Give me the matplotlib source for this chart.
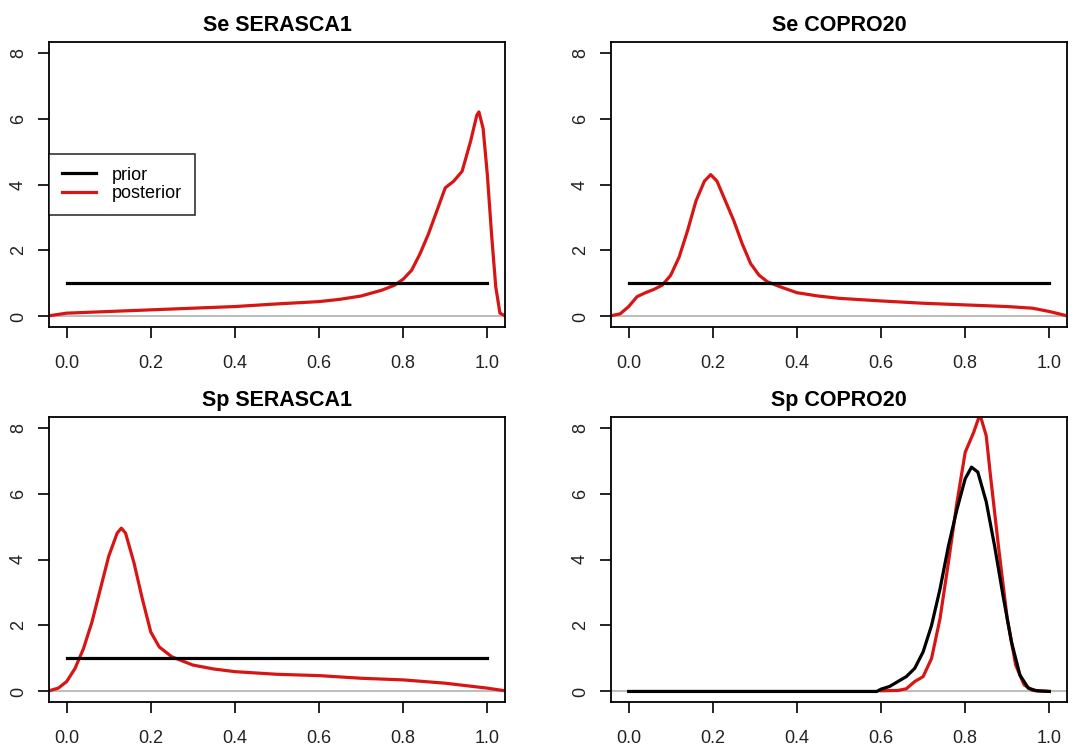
import numpy as np
import matplotlib.pyplot as plt

plt.rcParams['font.family'] = ['Liberation Sans', 'DejaVu Sans']

titles = ["Se SERASCA1", "Se COPRO20", "Sp SERASCA1", "Sp COPRO20"]
x_ticks = [0.0, 0.2, 0.4, 0.6, 0.8, 1.0]
y_ticks = [0, 2, 4, 6, 8]

# uniform priors (Beta(1,1)) for three panels
prior_flat_x = [0.0, 1.0]
prior_flat_y = [1.0, 1.0]

# Se SERASCA1 posterior
se_ser_x = [-0.042, 0.0, 0.1, 0.2, 0.3, 0.4, 0.5, 0.6, 0.65, 0.7, 0.75, 0.78, 0.8,
            0.82, 0.84, 0.86, 0.88, 0.9, 0.92, 0.94, 0.96, 0.975, 0.98, 0.99,
            1.0, 1.01, 1.02, 1.03, 1.042]
se_ser_y = [0.02, 0.1, 0.15, 0.2, 0.25, 0.3, 0.38, 0.45, 0.52, 0.62, 0.8, 0.95, 1.13,
            1.4, 1.9, 2.5, 3.2, 3.9, 4.1, 4.4, 5.3, 6.1, 6.2, 5.7,
            4.3, 2.5, 0.9, 0.1, 0.02]

# Se COPRO20 posterior
se_cop_x = [-0.042, -0.02, 0.0, 0.02, 0.04, 0.06, 0.08, 0.1, 0.12, 0.14, 0.16, 0.18,
            0.195, 0.21, 0.23, 0.25, 0.27, 0.29, 0.31, 0.33, 0.36, 0.4, 0.45, 0.5,
            0.6, 0.7, 0.8, 0.9, 0.96, 1.0, 1.042]
se_cop_y = [0.02, 0.08, 0.3, 0.6, 0.72, 0.82, 0.95, 1.25, 1.8, 2.6, 3.5, 4.1,
            4.3, 4.1, 3.5, 2.9, 2.2, 1.6, 1.25, 1.05, 0.9, 0.72, 0.62, 0.55,
            0.47, 0.4, 0.35, 0.3, 0.25, 0.15, 0.02]

# Sp SERASCA1 posterior
sp_ser_x = [-0.042, -0.02, 0.0, 0.02, 0.04, 0.06, 0.08, 0.1, 0.12, 0.13, 0.14, 0.16,
            0.18, 0.2, 0.22, 0.25, 0.3, 0.35, 0.4, 0.5, 0.6, 0.7, 0.8, 0.9, 1.0, 1.042]
sp_ser_y = [0.02, 0.1, 0.3, 0.7, 1.3, 2.1, 3.1, 4.1, 4.8, 4.95, 4.8, 3.9,
            2.8, 1.8, 1.35, 1.05, 0.8, 0.68, 0.6, 0.52, 0.48, 0.4, 0.35, 0.25, 0.1, 0.02]

# Sp COPRO20 prior (informative beta) and posterior
sp_cop_prior_x = [0.0, 0.59, 0.6, 0.62, 0.64, 0.66, 0.68, 0.7, 0.72, 0.74, 0.76, 0.78,
                  0.8, 0.815, 0.83, 0.85, 0.87, 0.89, 0.91, 0.93, 0.95, 0.97, 1.0]
sp_cop_prior_y = [0.0, 0.0, 0.07, 0.15, 0.3, 0.45, 0.7, 1.2, 2.0, 3.1, 4.4, 5.5,
                  6.45, 6.8, 6.65, 5.75, 4.4, 2.9, 1.5, 0.5, 0.1, 0.02, 0.0]
sp_cop_post_x = [0.6, 0.64, 0.66, 0.68, 0.7, 0.72, 0.74, 0.76, 0.78, 0.8, 0.82, 0.835,
                 0.85, 0.86, 0.88, 0.9, 0.92, 0.94, 0.96, 1.0]
sp_cop_post_y = [0.02, 0.03, 0.08, 0.3, 0.45, 1.0, 2.2, 3.9, 5.7, 7.25, 7.85, 8.4,
                 7.75, 6.55, 4.3, 2.2, 0.8, 0.2, 0.03, 0.0]

priors = [(prior_flat_x, prior_flat_y), (prior_flat_x, prior_flat_y),
          (prior_flat_x, prior_flat_y), (sp_cop_prior_x, sp_cop_prior_y)]
posts = [(se_ser_x, se_ser_y), (se_cop_x, se_cop_y),
         (sp_ser_x, sp_ser_y), (sp_cop_post_x, sp_cop_post_y)]

fig = plt.figure(figsize=(10.88, 7.49), dpi=100)
W, H = 1088, 749
boxes = [(49, 42), (611, 42), (49, 417), (611, 417)]
aw, ah = 456, 285

red = '#d81515'
for i, (l, t) in enumerate(boxes):
    ax = fig.add_axes([l / W, 1 - (t + ah) / H, aw / W, ah / H])
    ax.axhline(0, color='#bebebe', lw=1.5, zorder=1)
    px, py = posts[i]
    ax.plot(px, py, color=red, lw=2.3, zorder=2, label='posterior')
    qx, qy = priors[i]
    ax.plot(qx, qy, color='black', lw=2.3, zorder=3, label='prior')
    ax.set_xlim(-0.042, 1.042)
    ax.set_ylim(-0.32, 8.32)
    ax.set_xticks(x_ticks)
    ax.set_xticklabels(["%.1f" % v for v in x_ticks])
    ax.set_yticks(y_ticks)
    ax.set_yticklabels([str(v) for v in y_ticks], rotation=90, va='center')
    ax.tick_params(direction='out', length=8, width=1.2, labelsize=13,
                   colors='black', labelcolor='#222222')
    ax.tick_params(axis='x', pad=12)
    ax.tick_params(axis='y', pad=8)
    for s in ax.spines.values():
        s.set_linewidth(1.3)
    ax.set_title(titles[i], fontsize=15.5, fontweight='bold', pad=8)
    if i == 0:
        h, lab = ax.get_legend_handles_labels()
        leg = ax.legend(h[::-1], lab[::-1], loc='center left', bbox_to_anchor=(0, 0.5),
                        fontsize=13, frameon=True, fancybox=False, borderpad=0.7,
                        handlelength=1.9, handletextpad=0.9, labelspacing=0.1,
                        borderaxespad=0)
        leg.get_frame().set_edgecolor('black')
        leg.get_frame().set_linewidth(1.2)

fig.savefig("out.png", dpi=100)
